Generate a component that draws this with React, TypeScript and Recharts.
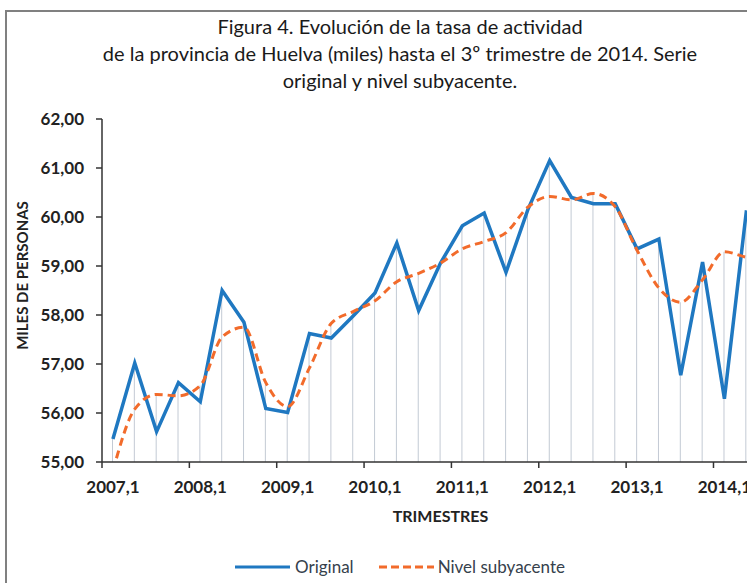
import { ComposedChart, Line, Bar, XAxis, YAxis, Legend } from 'recharts';

// trimestres 2007,1 .. 2014,3 (el último queda fuera del recorte, como en el original)
const quarters = [
  '2007,1', '2007,2', '2007,3', '2007,4',
  '2008,1', '2008,2', '2008,3', '2008,4',
  '2009,1', '2009,2', '2009,3', '2009,4',
  '2010,1', '2010,2', '2010,3', '2010,4',
  '2011,1', '2011,2', '2011,3', '2011,4',
  '2012,1', '2012,2', '2012,3', '2012,4',
  '2013,1', '2013,2', '2013,3', '2013,4',
  '2014,1', '2014,2', '2014,3',
];

const original = [
  55.47, 57.02, 55.62, 56.62, 56.23, 58.5, 57.85, 56.09,
  56.01, 57.62, 57.53, 57.98, 58.45, 59.47, 58.09, 59.06,
  59.82, 60.08, 58.87, 60.15, 61.15, 60.4, 60.27, 60.27,
  59.35, 59.55, 56.77, 59.08, 56.29, 60.1, 60.0,
];

const nivel = [
  54.82, 56.08, 56.38, 56.35, 56.56, 57.55, 57.75, 56.62,
  56.13, 56.92, 57.83, 58.07, 58.29, 58.68, 58.85, 59.06,
  59.35, 59.5, 59.68, 60.2, 60.42, 60.35, 60.48, 60.21,
  59.32, 58.55, 58.26, 58.72, 59.29, 59.18, 59.1,
];

const yTicks = [55, 56, 57, 58, 59, 60, 61, 62];

const data = quarters.map((q, i) => ({
  q,
  original: original[i],
  nivel: nivel[i],
  // línea de caída hasta el eje desde el valor más alto de las dos series
  drop: Math.max(original[i], nivel[i]),
}));

const FONT = 'Lato, "Open Sans", sans-serif';
const fmt = (v: number) => v.toFixed(2).replace('.', ',');

const XTick = (props: any) => {
  const { x, y, payload } = props;
  const half = payload?.offset ?? 0;
  return (
    <g>
      <line x1={x - half} x2={x - half} y1={y} y2={y + 6} stroke="#333" strokeWidth={1.5} />
      <text x={x} y={y + 31} textAnchor="middle" fontSize={17} fontWeight={700} fill="#222" fontFamily={FONT}>
        {payload.value}
      </text>
    </g>
  );
};

const LegendBox = () => (
  <div
    style={{
      display: 'flex',
      justifyContent: 'center',
      alignItems: 'center',
      fontFamily: FONT,
      fontSize: 17,
      color: '#36414c',
    }}
  >
    <svg width={55} height={10}>
      <line x1={0} x2={55} y1={5} y2={5} stroke="#1f78c1" strokeWidth={3} />
    </svg>
    <span style={{ marginLeft: 5, marginRight: 25 }}>Original</span>
    <svg width={55} height={10}>
      <line x1={0} x2={55} y1={5} y2={5} stroke="#f26b2b" strokeWidth={3} strokeDasharray="8 4" />
    </svg>
    <span style={{ marginLeft: 4 }}>Nivel subyacente</span>
  </div>
);

export default function App() {
  return (
    <div
      style={{
        position: 'absolute',
        left: 0,
        top: 0,
        width: 747,
        height: 583,
        overflow: 'hidden',
        background: '#fff',
        fontFamily: FONT,
      }}
    >
      <div
        style={{
          position: 'absolute',
          left: 5,
          top: 10,
          width: 900,
          height: 700,
          border: '2px solid #808080',
        }}
      />
      <div
        style={{
          position: 'absolute',
          left: 0,
          top: 13,
          width: 800,
          textAlign: 'center',
          fontSize: 20,
          lineHeight: '27px',
          color: '#1a1a1a',
        }}
      >
        Figura 4. Evolución de la tasa de actividad
        <br />
        de la provincia de Huelva (miles) hasta el 3º trimestre de 2014. Serie
        <br />
        original y nivel subyacente.
      </div>
      <div style={{ position: 'absolute', left: 0, top: 0 }}>
        <ComposedChart
          width={800}
          height={583}
          data={data}
          margin={{ top: 119, right: 21, bottom: 91, left: 0 }}
        >
          <XAxis
            dataKey="q"
            interval={3}
            height={30}
            tickLine={false}
            tickSize={0}
            tickMargin={0}
            axisLine={{ stroke: '#333', strokeWidth: 1.5 }}
            tick={<XTick />}
            label={{
              content: (p: any) => {
                const vb = p.viewBox;
                return (
                  <text
                    x={vb.x + vb.width / 2}
                    y={vb.y + 60}
                    textAnchor="middle"
                    fontSize={16}
                    fontWeight={700}
                    fill="#222"
                    fontFamily={FONT}
                  >
                    TRIMESTRES
                  </text>
                );
              },
            }}
          />
          <YAxis
            width={102}
            domain={[55, 62]}
            ticks={yTicks}
            allowDataOverflow
            tickFormatter={fmt}
            tickSize={6}
            tickMargin={12}
            tickLine={{ stroke: '#333', strokeWidth: 1.5 }}
            axisLine={{ stroke: '#333', strokeWidth: 1.5 }}
            tick={{ fontSize: 17, fontWeight: 700, fill: '#222', fontFamily: FONT }}
            label={{
              content: (p: any) => {
                const vb = p.viewBox;
                const cx = vb.x + 22;
                const cy = vb.y + vb.height / 2 - 15;
                return (
                  <text
                    x={cx}
                    y={cy}
                    transform={`rotate(-90, ${cx}, ${cy})`}
                    textAnchor="middle"
                    dominantBaseline="central"
                    fontSize={15}
                    fontWeight={700}
                    fill="#222"
                    fontFamily={FONT}
                  >
                    MILES DE PERSONAS
                  </text>
                );
              },
            }}
          />
          <Legend
            verticalAlign="middle"
            align="center"
            layout="horizontal"
            wrapperStyle={{ top: 556, left: 0, width: 800 }}
            content={<LegendBox />}
          />
          <Bar dataKey="drop" barSize={1} fill="#c3cad4" legendType="none" isAnimationActive={false} />
          <Line
            dataKey="original"
            name="Original"
            type="linear"
            stroke="#1f78c1"
            strokeWidth={3.5}
            dot={false}
            activeDot={false}
            isAnimationActive={false}
          />
          <Line
            dataKey="nivel"
            name="Nivel subyacente"
            type="monotone"
            stroke="#f26b2b"
            strokeWidth={3}
            strokeDasharray="8 5"
            dot={false}
            activeDot={false}
            isAnimationActive={false}
          />
        </ComposedChart>
      </div>
    </div>
  );
}
